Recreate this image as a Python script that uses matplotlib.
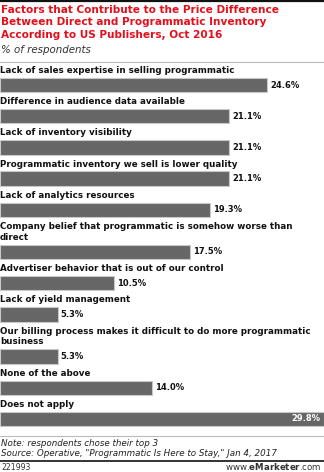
import matplotlib
matplotlib.use("Agg")
import matplotlib.pyplot as plt

categories = [
    "Lack of sales expertise in selling programmatic",
    "Difference in audience data available",
    "Lack of inventory visibility",
    "Programmatic inventory we sell is lower quality",
    "Lack of analytics resources",
    "Company belief that programmatic is somehow worse than\ndirect",
    "Advertiser behavior that is out of our control",
    "Lack of yield management",
    "Our billing process makes it difficult to do more programmatic\nbusiness",
    "None of the above",
    "Does not apply",
]
values = [24.6, 21.1, 21.1, 21.1, 19.3, 17.5, 10.5, 5.3, 5.3, 14.0, 29.8]

title_lines = "Factors that Contribute to the Price Difference\nBetween Direct and Programmatic Inventory\nAccording to US Publishers, Oct 2016"
subtitle = "% of respondents"
note = "Note: respondents chose their top 3\nSource: Operative, \"Programmatic Is Here to Stay,\" Jan 4, 2017"
chart_id = "221993"

W, H = 324, 472
fig = plt.figure(figsize=(W / 100, H / 100), dpi=100)
fig.patch.set_facecolor("white")
ax = fig.add_axes([0, 0, 1, 1])
ax.set_xlim(0, max(values))
ax.set_ylim(H, 0)
ax.axis("off")

FONT = "DejaVu Sans"

def ptx(x):
    return x / W

# layout: compute bar centres
line_h = 11.0
step = 31.2
lab_to_bar = 14.0
centers = []
label_y = []
y = 71.0
for cat in categories:
    n = cat.count("\n") + 1
    label_y.append(y)
    bc = y + (n - 1) * line_h + lab_to_bar
    centers.append(bc)
    y = bc + (step - lab_to_bar)

bar_h = 14.5
ax.barh(centers, values, height=bar_h, color="#666666", edgecolor="#c8c8c8", linewidth=0.8)

vmax = max(values)
for cat, v, ly, bc in zip(categories, values, label_y, centers):
    ax.text(0.0, ly - 5.0, cat, ha="left", va="top", fontsize=6.3, fontweight="bold",
            family=FONT, color="#111111", linespacing=1.25)
    if v >= vmax:
        ax.text(v - 0.3, bc, f"{v:.1f}%", ha="right", va="center", fontsize=6.0,
                fontweight="bold", family=FONT, color="white")
    else:
        ax.text(v + 0.25, bc, f"{v:.1f}%", ha="left", va="center", fontsize=6.0,
                fontweight="bold", family=FONT, color="#111111")

# title and subtitle
fig.text(ptx(1), 1 - 5 / H, title_lines, ha="left", va="top", fontsize=7.6, fontweight="bold",
         family=FONT, color="#e60e1a", linespacing=1.3)
fig.text(ptx(1), 1 - 45 / H, subtitle, ha="left", va="top", fontsize=7.4, style="italic",
         family=FONT, color="#333333")

# rules
ax.plot([0, vmax], [1, 1], color="#111111", lw=1.6, clip_on=False)
ax.plot([0, vmax], [62, 62], color="#bbbbbb", lw=0.8)
ax.plot([0, vmax], [436, 436], color="#bbbbbb", lw=0.8)
ax.plot([0, vmax], [461, 461], color="#111111", lw=1.2)

fig.text(ptx(1), 1 - 439 / H, note, ha="left", va="top", fontsize=6.3, style="italic",
         family=FONT, color="#222222", linespacing=1.1)
fig.text(ptx(1), 1 - 468 / H, chart_id, ha="left", va="center", fontsize=5.6,
         family=FONT, color="#333333")
fig.text(ptx(322), 1 - 467 / H, "www.$\\mathbf{eMarketer}$.com", ha="right", va="center",
         fontsize=6.2, family=FONT, color="#333333")

fig.savefig("out.png", dpi=100, facecolor="white")
